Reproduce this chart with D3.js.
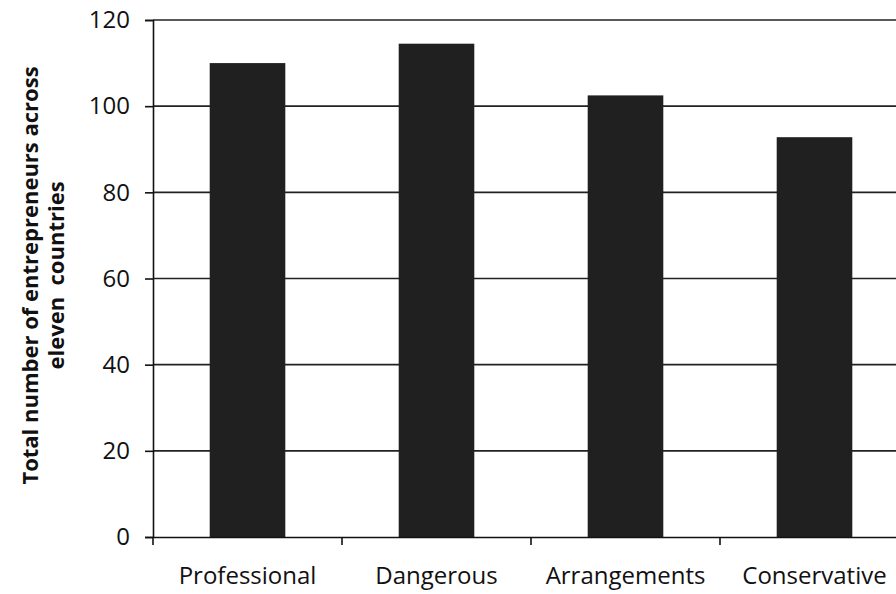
<!DOCTYPE html>
<html>
<head>
<meta charset="utf-8">
<script src="https://cdn.jsdelivr.net/npm/d3@7/dist/d3.min.js"></script>
<style>
  html, body { margin: 0; padding: 0; background: #fff; }
  svg { display: block; }
  text { font-family: "Open Sans", Lato, sans-serif; fill: #111; }
</style>
</head>
<body>
<svg id="chart" width="896" height="594"></svg>
<script>
// Entrepreneur counts by category, summed over eleven countries
const categories = ["Professional", "Dangerous", "Arrangements", "Conservative"];
const totals = [110, 114.5, 102.5, 92.8];
const yTicks = [0, 20, 40, 60, 80, 100, 120];
const yTitleLines = ["Total number of entrepreneurs across", "eleven  countries"];

const svg = d3.select("#chart");
const margin = { left: 153, top: 20, bottom: 57 };
const plotW = 756; // plot runs past the right edge of the page
const plotH = 594 - margin.top - margin.bottom;

const x = d3.scaleBand().domain(categories).range([0, plotW]).paddingInner(0.6).paddingOuter(0.3);
const y = d3.scaleLinear().domain([0, 120]).range([plotH, 0]);

const g = svg.append("g").attr("transform", `translate(${margin.left},${margin.top})`);

// horizontal gridlines
g.append("g").selectAll("line").data(yTicks.filter(d => d > 0)).join("line")
  .attr("x1", 0).attr("x2", plotW)
  .attr("y1", d => y(d)).attr("y2", d => y(d))
  .attr("stroke", "#222").attr("stroke-width", 1.6);

// bars
g.append("g").selectAll("rect").data(categories).join("rect")
  .attr("x", d => x(d))
  .attr("width", x.bandwidth())
  .attr("y", (d, i) => y(totals[i]))
  .attr("height", (d, i) => plotH - y(totals[i]))
  .attr("fill", "#202020");

// y axis
const yAxis = g.append("g")
  .call(d3.axisLeft(y).tickValues(yTicks).tickSize(8).tickPadding(15).tickFormat(d3.format("d")));
yAxis.select(".domain").attr("stroke", "#111").attr("stroke-width", 1.6);
yAxis.selectAll(".tick line").attr("stroke", "#111").attr("stroke-width", 1.6);
yAxis.selectAll("text").style("font-size", "24px").attr("fill", "#111");

// x axis: ticks sit on the category boundaries
const xAxis = g.append("g").attr("transform", `translate(0,${plotH})`)
  .call(d3.axisBottom(x).tickSize(0).tickPadding(30));
xAxis.select(".domain").attr("stroke", "#111").attr("stroke-width", 1.6);
xAxis.selectAll("text").style("font-size", "24px").attr("fill", "#111");
const step = x.step();
const boundaries = d3.range(categories.length + 1).map(i => x(categories[0]) - x.paddingInner() * step / 2 + i * step);
xAxis.selectAll(".boundary").data(boundaries).join("line")
  .attr("class", "boundary")
  .attr("x1", d => d).attr("x2", d => d)
  .attr("y1", 0).attr("y2", 8)
  .attr("stroke", "#111").attr("stroke-width", 1.6);

// y axis title
const title = svg.append("text")
  .attr("transform", `translate(30,${margin.top + plotH / 2 - 3}) rotate(-90)`)
  .attr("text-anchor", "middle")
  .style("font-size", "22px").style("font-weight", "bold");
title.selectAll("tspan").data(yTitleLines).join("tspan")
  .attr("x", 0).attr("dy", (d, i) => i === 0 ? "0.35em" : "1.2em")
  .attr("xml:space", "preserve")
  .style("white-space", "pre")
  .text(d => d);
</script>
</body>
</html>
